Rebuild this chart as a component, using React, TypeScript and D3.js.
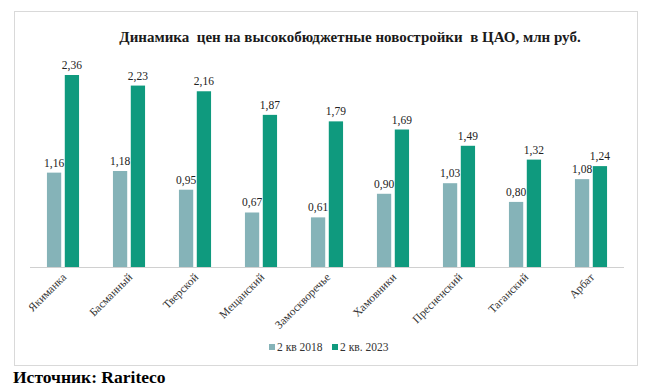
import React from "react";
import * as d3 from "d3";

const districts = ["Якиманка", "Басманный", "Тверской", "Мещанский", "Замоскворечье", "Хамовники", "Пресненский", "Таганский", "Арбат"];
const q2018 = [1.16, 1.18, 0.95, 0.67, 0.61, 0.90, 1.03, 0.80, 1.08];
const q2023 = [2.36, 2.23, 2.16, 1.87, 1.79, 1.69, 1.49, 1.32, 1.24];
const seriesNames = ["2 кв 2018", "2 кв. 2023"];
const colors = ["#85b3b8", "#0f9a7e"];

const W = 655;
const H = 388;
const fmt = (v: number) => v.toFixed(2).replace(".", ",");

const App = () => {
    const x = d3.scaleBand().domain(districts).range([30, 624]).paddingInner(0).paddingOuter(0);
    const inner = d3.scaleBand().domain(["a", "b"]).range([0, x.bandwidth()]).paddingInner(0.2).paddingOuter(0.95);
    const y = d3.scaleLinear().domain([0, 2.36]).range([267, 75]);
    const font = "'Liberation Serif', 'Times New Roman', serif";

    return (
        <svg width={W} height={H} style={{ position: "absolute", left: 0, top: 0 }} fontFamily={font}>
            <rect x={14.5} y={11.5} width={623} height={354} fill="white" stroke="#d9d9d9" />
            <text x={350} y={42} textAnchor="middle" fontSize="15" fontWeight="bold" fill="#1a1a1a" style={{ whiteSpace: "pre" }}>
                {"Динамика  цен на высокобюджетные новостройки  в ЦАО, млн руб."}
            </text>
            {districts.map((d, i) => {
                const x0 = x(d) ?? 0;
                const vals = [q2018[i], q2023[i]];
                return (
                    <g key={d}>
                        {vals.map((v, j) => {
                            const bx = x0 + (inner(j === 0 ? "a" : "b") ?? 0);
                            return (
                                <g key={j}>
                                    <rect x={bx} y={y(v)} width={inner.bandwidth()} height={y(0) - y(v)} fill={colors[j]} />
                                    <text x={bx + inner.bandwidth() / 2} y={y(v) - 6} textAnchor="middle" fontSize="11.5" fill="#222">
                                        {fmt(v)}
                                    </text>
                                </g>
                            );
                        })}
                        <text
                            transform={`translate(${x0 + x.bandwidth() / 2 + 4},${278}) rotate(-45)`}
                            textAnchor="end"
                            fontSize="11.5"
                            fill="#333"
                        >
                            {d}
                        </text>
                    </g>
                );
            })}
            <line x1={30} x2={624} y1={267.5} y2={267.5} stroke="#d0d0d0" />
            {seriesNames.map((s, j) => {
                const lx = j === 0 ? 269 : 332;
                return (
                    <g key={s}>
                        <rect x={lx} y={344} width={6} height={6} fill={colors[j]} />
                        <text x={lx + 8} y={351} fontSize="11.5" fill="#333">{s}</text>
                    </g>
                );
            })}
            <text x={13} y={383} fontSize="17.5" fontWeight="bold" fill="#000">Источник: Raritеco</text>
        </svg>
    );
};

export default App;
